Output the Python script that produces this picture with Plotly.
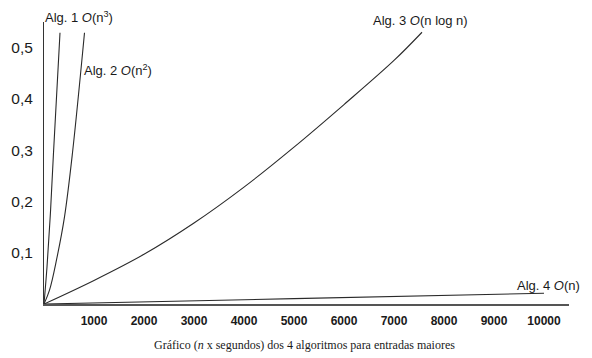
import plotly.graph_objects as go

# Values (n, seconds)
alg1_n = [0, 60, 124, 190, 320]
alg1_t = [0, 0.072, 0.170, 0.295, 0.529]

alg2_n = [0, 110, 250, 410, 570, 810]
alg2_t = [0, 0.027, 0.086, 0.170, 0.295, 0.529]

alg3_n = [0, 1000, 2000, 3000, 4000, 5000, 6000, 7000, 7560]
alg3_t = [0, 0.046, 0.097, 0.158, 0.228, 0.306, 0.389, 0.475, 0.530]

alg4_n = [0, 5000, 10000]
alg4_t = [0, 0.0105, 0.021]

x_ticks = [1000, 2000, 3000, 4000, 5000, 6000, 7000, 8000, 9000, 10000]
y_ticks = [0.1, 0.2, 0.3, 0.4, 0.5]
y_tick_text = ["0,1", "0,2", "0,3", "0,4", "0,5"]

line_style = dict(color="#2a2a2a", width=1.1)

fig = go.Figure()
for n, t in [(alg1_n, alg1_t), (alg2_n, alg2_t), (alg3_n, alg3_t), (alg4_n, alg4_t)]:
    fig.add_trace(go.Scatter(x=n, y=t, mode="lines", line=dict(shape="spline", smoothing=1.0, **line_style),
                             showlegend=False, hoverinfo="skip"))

label_font = dict(family="Liberation Sans, Arial, sans-serif", size=13, color="#1a1a1a")
labels = [
    (-0.002, 1.018, "Alg. 1 <i>O</i>(n<sup>3</sup>)"),
    (0.072, 0.830, "Alg. 2 <i>O</i>(n<sup>2</sup>)"),
    (0.623, 1.004, "Alg. 3 <i>O</i>(n log n)"),
    (0.897, 0.067, "Alg. 4 <i>O</i>(n)"),
]
for x, y, txt in labels:
    fig.add_annotation(x=x, y=y, xref="paper", yref="paper", text=txt, showarrow=False,
                       xanchor="left", yanchor="middle", font=label_font)

fig.add_annotation(x=0.497, y=-0.145, xref="paper", yref="paper",
                   text="Gráfico (<i>n</i> x segundos) dos 4 algoritmos para entradas maiores",
                   showarrow=False, xanchor="center", yanchor="middle",
                   font=dict(family="Liberation Serif, Times New Roman, serif", size=12, color="#1a1a1a"))

fig.update_xaxes(range=[0, 10500], tickvals=x_ticks, ticktext=[str(v) for v in x_ticks],
                 showgrid=False, zeroline=False, showline=True, linecolor="#555", linewidth=2,
                 ticks="", ticklabelstandoff=5, automargin=False,
                 tickfont=dict(family="Liberation Sans, Arial, sans-serif", size=12, color="#1a1a1a",
                               weight=600))
fig.update_yaxes(range=[0, 0.55], tickvals=y_ticks, ticktext=y_tick_text,
                 showgrid=False, zeroline=False, showline=True, linecolor="#333", linewidth=1,
                 ticks="", ticklabelstandoff=7, automargin=False,
                 tickfont=dict(family="Liberation Sans, Arial, sans-serif", size=15.5, color="#1a1a1a"))

# page body has an 8px default margin, so the figure is shrunk and shifted to compensate
fig.update_layout(width=584, height=350, margin=dict(l=36, r=23, t=14, b=54),
                  plot_bgcolor="white", paper_bgcolor="white")

fig.write_html("out.html")
